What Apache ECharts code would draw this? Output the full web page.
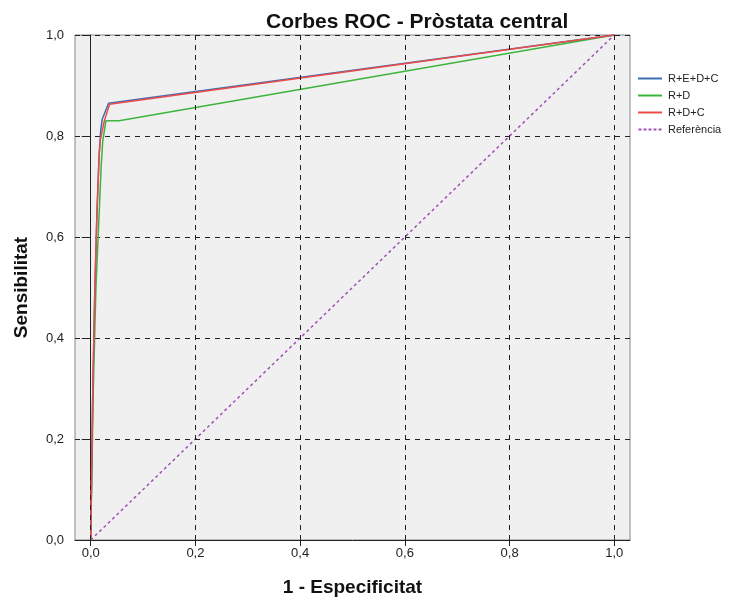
<!DOCTYPE html>
<html>
<head>
<meta charset="utf-8">
<script src="https://cdn.jsdelivr.net/npm/echarts@6/dist/echarts.min.js"></script>
<style>
  html, body { margin: 0; padding: 0; background: #fff; }
  #chart { width: 736px; height: 598px; }
</style>
</head>
<body>
<div id="chart"></div>
<script>
// ROC curves, [1 - especificitat, sensibilitat]
const curveREDC = [[0, 0], [0.004, 0.3], [0.008, 0.5], [0.012, 0.65], [0.016, 0.76], [0.019, 0.81], [0.022, 0.833], [0.034, 0.865], [1, 1]]
const curveRD = [[0, 0], [0.005, 0.3], [0.01, 0.5], [0.015, 0.62], [0.02, 0.74], [0.023, 0.79], [0.029, 0.83], [0.054, 0.83], [1, 1]]
const curveRDC = [[0, 0], [0.004, 0.3], [0.008, 0.5], [0.012, 0.65], [0.016, 0.76], [0.018, 0.79], [0.026, 0.83], [0.036, 0.863], [1, 1]]
const reference = [[0, 0], [1, 1]]
const ticks = [0, 0.2, 0.4, 0.6, 0.8, 1.0]

const fmt = (v) => v.toFixed(1).replace('.', ',')

const solidIcon = 'path://M0 0H24V2H0Z'
const dashIcon = 'path://M0 0H3V2H0Z M5 0H8V2H5Z M10 0H13V2H10Z M15 0H18V2H15Z M20 0H23V2H20Z'

const chart = echarts.init(document.getElementById('chart'))

const font = 'Liberation Sans, Arial'
const axisText = { color: '#222', fontSize: 13, fontFamily: font }
const nameText = { fontSize: 19, fontWeight: 'bold', color: '#111', fontFamily: font }

chart.setOption({
  animation: false,
  title: {
    text: 'Corbes ROC - Pròstata central',
    left: 261,
    top: 7,
    textStyle: { fontSize: 21, fontWeight: 'bold', color: '#111', fontFamily: font },
  },
  legend: {
    orient: 'vertical',
    left: 633,
    top: 68,
    itemWidth: 26,
    itemHeight: 2,
    itemGap: 6,
    textStyle: { fontSize: 11, color: '#222', fontFamily: font },
    data: [
      { name: 'R+E+D+C', icon: solidIcon },
      { name: 'R+D', icon: solidIcon },
      { name: 'R+D+C', icon: solidIcon },
      { name: 'Referència', icon: dashIcon },
    ],
  },
  grid: {
    left: 75,
    top: 35,
    right: 106,
    bottom: 58,
    outerBoundsMode: 'none',
    containLabel: false,
    show: true,
    backgroundColor: '#f0f0f0',
    borderColor: '#888',
    borderWidth: 1,
  },
  xAxis: {
    type: 'value',
    min: -0.03,
    max: 1.03,
    name: '1 - Especificitat',
    nameLocation: 'middle',
    nameGap: 38,
    nameTextStyle: nameText,
    axisLine: { onZero: false, lineStyle: { color: '#222', width: 1 } },
    axisTick: { show: true, length: 6, customValues: ticks, lineStyle: { color: '#222' } },
    axisLabel: { customValues: ticks, formatter: fmt, margin: 7, ...axisText },
    splitLine: { show: false },
  },
  yAxis: {
    type: 'value',
    min: 0,
    max: 1,
    interval: 0.2,
    name: 'Sensibilitat',
    nameLocation: 'middle',
    nameGap: 44,
    nameTextStyle: nameText,
    axisLine: { show: true, lineStyle: { color: '#222', width: 1 } },
    axisTick: { show: true, length: 9, lineStyle: { color: '#222' } },
    axisLabel: { formatter: fmt, margin: 11, ...axisText },
    splitLine: { show: true, lineStyle: { color: '#222', type: [5, 5], width: 1 } },
  },
  series: [
    {
      name: 'Referència',
      type: 'line',
      data: reference,
      symbol: 'none',
      z: 1,
      lineStyle: { color: '#a24fb5', width: 1.5, type: [3, 3] },
      itemStyle: { color: '#a24fb5' },
      markLine: {
        silent: true,
        symbol: 'none',
        label: { show: false },
        lineStyle: { color: '#222', type: [5, 5], width: 1 },
        data: ticks.map((v) => ({ xAxis: v })),
      },
    },
    {
      name: 'R+D',
      type: 'line',
      data: curveRD,
      symbol: 'none',
      z: 3,
      lineStyle: { color: '#3db53d', width: 1.5 },
      itemStyle: { color: '#3db53d' },
    },
    {
      name: 'R+E+D+C',
      type: 'line',
      data: curveREDC,
      symbol: 'none',
      z: 3,
      lineStyle: { color: '#3f6eb0', width: 1.5 },
      itemStyle: { color: '#3f6eb0' },
    },
    {
      name: 'R+D+C',
      type: 'line',
      data: curveRDC,
      symbol: 'none',
      z: 4,
      lineStyle: { color: '#ec4b48', width: 1.5 },
      itemStyle: { color: '#ec4b48' },
    },
  ],
})
</script>
</body>
</html>
